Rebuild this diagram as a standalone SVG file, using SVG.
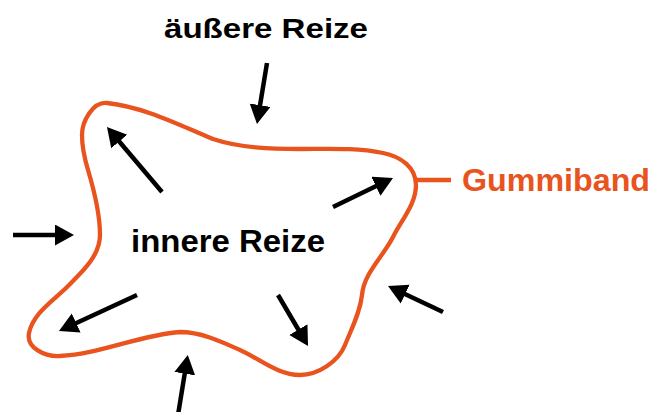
<svg xmlns="http://www.w3.org/2000/svg" width="656" height="412" viewBox="0 0 656 412">
<style>
.lbl{font-family:"Liberation Sans",Arial,sans-serif;font-weight:bold;font-size:32px}
.sm{font-size:28px}
.blk{fill:#000}
.org{fill:#E8531E}
.arr{stroke:#000;stroke-width:4.5;fill:none;marker-end:url(#ah)}
.band{stroke:#E8531E;stroke-width:4.3;fill:none}
</style>
<defs>
<marker id="ah" markerUnits="userSpaceOnUse" markerWidth="20" markerHeight="22" refX="1" refY="10.5" orient="auto" viewBox="0 0 20 22">
<path d="M0,0 L19,10.5 L0,21 Z" fill="#000"/>
</marker>
</defs>
<rect width="656" height="412" fill="#fff"/>
<g id="gummiband">
<path class="band" d="M107,103 C144,107 179,125 213,139 C240,148 271,149 300,149 C328,149 356,147.5 383,153 C400.6,156.5 416,167 416,185 C416,204 401.5,220 393,237 C383,256.7 364,273 362,295 C360,313 351.7,328.3 345,345 C338.3,361.7 318,375 300,375 C278,375 260,359 240,350 C221,341.4 201,332 180,332 C140,335 100,354 60,356 C45,357 26,347.7 29,333 C33,313.4 53,301 67,287 C81.8,272.2 100,256 100,235 C100,213 94.3,191 88,170 C84.6,158.5 82,147 82,135 C82,121 93,101.6 107,103 Z"/>
<path class="band" d="M417,180 L451,180" stroke-width="3"/>
<text class="lbl org" x="462" y="191" textLength="188" lengthAdjust="spacingAndGlyphs">Gummiband</text>
</g>
<g id="aeussere">
<text class="lbl sm blk" x="164" y="38" textLength="204" lengthAdjust="spacingAndGlyphs">äußere Reize</text>
</g>
<g id="innere">
<text class="lbl blk" x="131" y="252" textLength="194" lengthAdjust="spacingAndGlyphs">innere Reize</text>
</g>
<g id="connectors">
<path class="arr" d="M13,235 L56,235"/>
<path class="arr" d="M267,63 L259.9,106.2"/>
<path class="arr" d="M162,192 L118.6,140.7"/>
<path class="arr" d="M333,207 L376.8,185.8"/>
<path class="arr" d="M137,295 L75.3,323.5"/>
<path class="arr" d="M278,295 L298.9,330.5"/>
<path class="arr" d="M443,312 L404.3,293.7"/>
<path class="arr" d="M178,415 L184.9,372.7"/>
</g>
</svg>
